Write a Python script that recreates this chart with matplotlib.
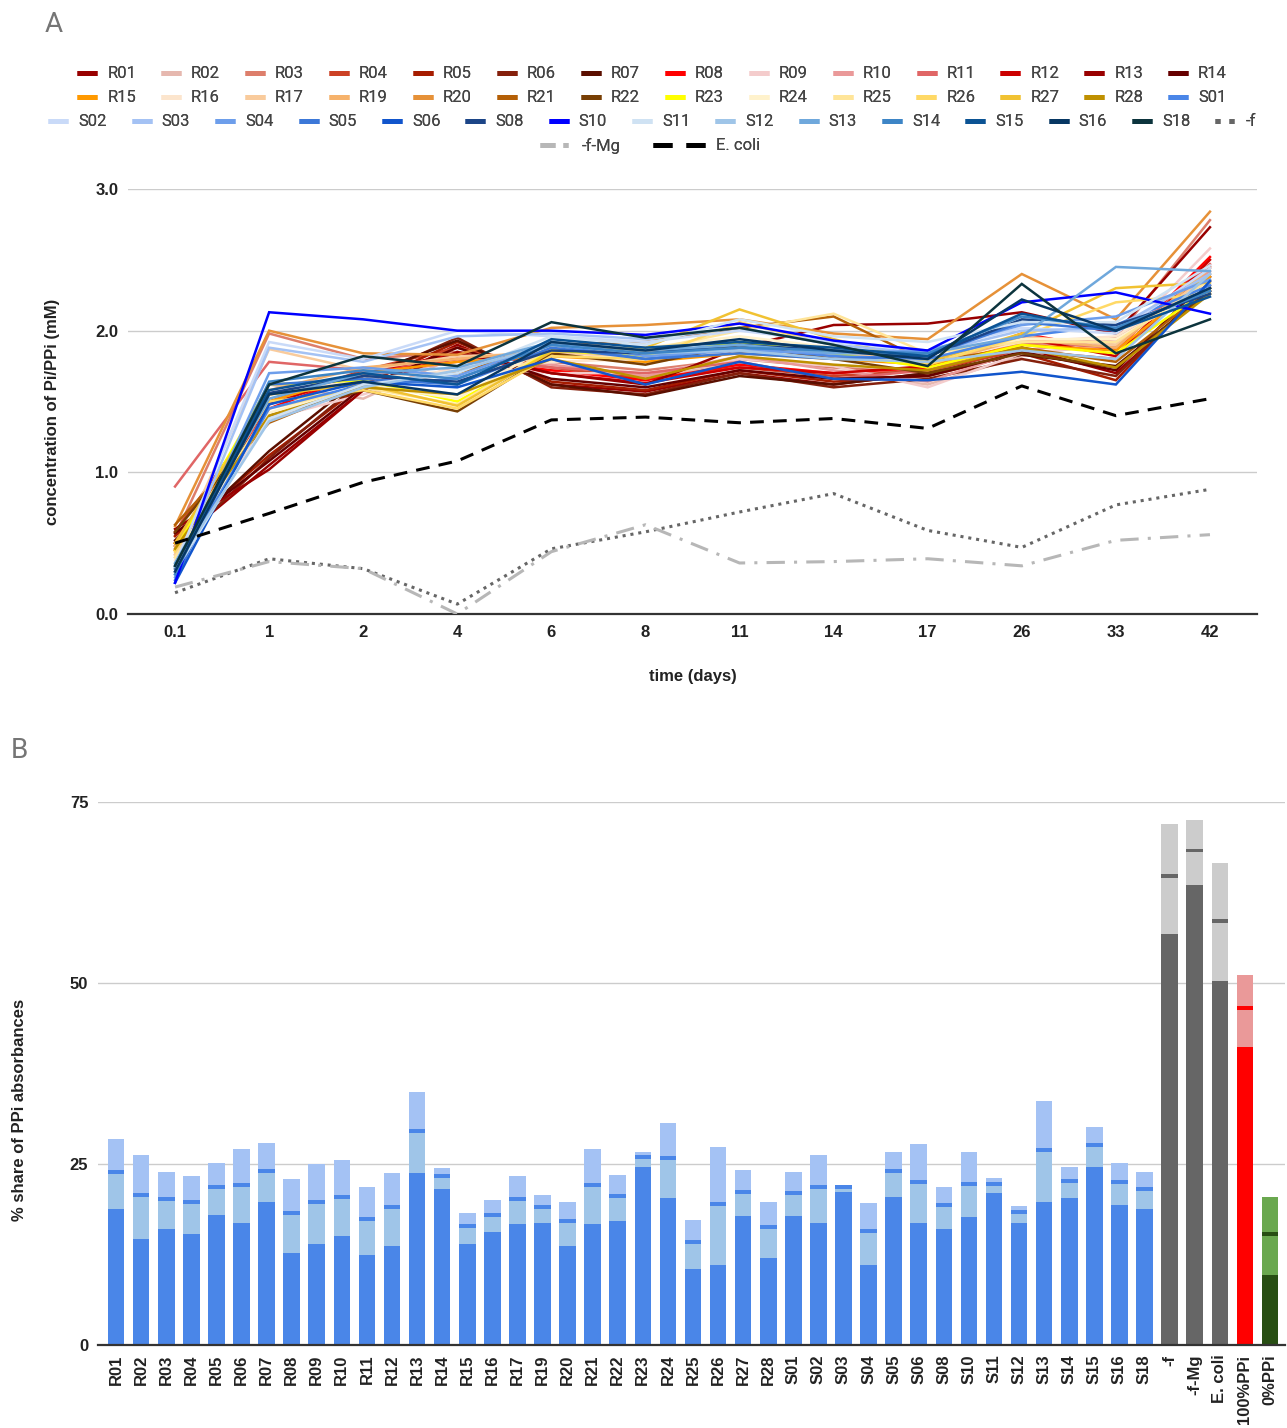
import matplotlib
matplotlib.use("Agg")
import matplotlib.pyplot as plt
from matplotlib.lines import Line2D
import numpy as np

plt.rcParams['font.family'] = ['Roboto', 'DejaVu Sans']
LABEL_FONT = ['Liberation Sans', 'DejaVu Sans']

# ---------------- Panel A data: Pi/PPi concentration over time ----------------
days = ["0.1", "1", "2", "4", "6", "8", "11", "14", "17", "26", "33", "42"]

sample_names = ["R01", "R02", "R03", "R04", "R05", "R06", "R07", "R08", "R09", "R10",
                "R11", "R12", "R13", "R14", "R15", "R16", "R17", "R19", "R20", "R21",
                "R22", "R23", "R24", "R25", "R26", "R27", "R28", "S01", "S02", "S03",
                "S04", "S05", "S06", "S08", "S10", "S11", "S12", "S13", "S14", "S15",
                "S16", "S18"]

R01 = [0.50, 1.05, 1.58, 1.90, 1.62, 1.57, 1.70, 1.62, 1.70, 1.88, 1.70, 2.30]
R02 = [0.42, 1.62, 1.52, 1.82, 1.72, 1.68, 1.76, 1.70, 1.62, 1.82, 1.92, 2.40]
R03 = [0.55, 1.98, 1.80, 1.85, 1.78, 1.72, 1.80, 1.74, 1.70, 1.90, 1.95, 2.78]
R04 = [0.58, 1.50, 1.72, 1.88, 1.74, 1.66, 1.74, 1.68, 1.72, 1.86, 1.80, 2.45]
R05 = [0.55, 1.12, 1.62, 1.92, 1.64, 1.58, 1.72, 1.64, 1.68, 1.84, 1.65, 2.35]
R06 = [0.48, 1.10, 1.65, 1.95, 1.60, 1.55, 1.70, 1.60, 1.66, 1.80, 1.68, 2.32]
R07 = [0.52, 1.15, 1.68, 1.93, 1.62, 1.54, 1.68, 1.62, 1.70, 1.83, 1.75, 2.28]
R08 = [0.45, 1.45, 1.70, 1.80, 1.72, 1.65, 1.76, 1.70, 1.74, 1.98, 1.86, 2.52]
R09 = [0.40, 1.38, 1.55, 1.75, 1.70, 1.70, 1.80, 1.75, 1.60, 1.84, 1.90, 2.58]
R10 = [0.46, 1.55, 1.68, 1.78, 1.76, 1.68, 1.82, 1.72, 1.64, 1.86, 1.94, 2.42]
R11 = [0.90, 1.78, 1.72, 1.80, 1.74, 1.70, 1.78, 1.66, 1.72, 1.92, 1.88, 2.47]
R12 = [0.50, 1.48, 1.70, 1.84, 1.70, 1.63, 1.74, 1.70, 1.75, 1.95, 1.82, 2.50]
R13 = [0.60, 1.02, 1.58, 1.85, 1.70, 1.62, 1.88, 2.04, 2.05, 2.13, 1.98, 2.73]
R14 = [0.57, 1.08, 1.60, 1.88, 1.66, 1.60, 1.72, 1.66, 1.68, 1.85, 1.72, 2.38]
R15 = [0.50, 1.50, 1.70, 1.78, 1.82, 1.78, 1.84, 1.80, 1.76, 1.90, 1.86, 2.38]
R16 = [0.38, 1.55, 1.66, 1.72, 1.78, 1.80, 1.86, 1.82, 1.78, 1.92, 1.96, 2.35]
R17 = [0.42, 1.87, 1.72, 1.82, 1.84, 1.82, 1.90, 1.84, 1.80, 1.96, 1.90, 2.40]
R19 = [0.48, 1.58, 1.74, 1.80, 1.86, 1.85, 1.88, 1.82, 1.76, 1.94, 1.88, 2.44]
R20 = [0.62, 2.00, 1.84, 1.83, 2.02, 2.04, 2.08, 1.98, 1.94, 2.40, 2.08, 2.84]
R21 = [0.63, 1.35, 1.62, 1.70, 1.90, 1.92, 2.02, 2.10, 1.78, 1.88, 1.78, 2.30]
R22 = [0.58, 1.40, 1.58, 1.43, 1.84, 1.76, 1.90, 1.80, 1.70, 1.84, 1.74, 2.28]
R23 = [0.45, 1.62, 1.65, 1.50, 1.86, 1.82, 1.92, 1.84, 1.74, 1.90, 1.84, 2.30]
R24 = [0.36, 1.42, 1.62, 1.52, 1.90, 1.88, 1.96, 1.88, 1.80, 1.94, 1.94, 2.32]
R25 = [0.40, 1.45, 1.60, 1.48, 1.88, 1.86, 2.00, 2.12, 1.84, 1.92, 1.92, 2.36]
R26 = [0.44, 1.50, 1.58, 1.45, 1.82, 1.80, 2.06, 1.90, 1.76, 1.96, 2.20, 2.26]
R27 = [0.50, 1.55, 1.62, 1.47, 1.85, 1.88, 2.15, 1.94, 1.78, 1.98, 2.30, 2.34]
R28 = [0.46, 1.40, 1.60, 1.55, 1.80, 1.66, 1.82, 1.76, 1.72, 1.88, 1.74, 2.26]
S01 = [0.30, 1.45, 1.62, 1.66, 1.90, 1.80, 1.88, 1.82, 1.80, 1.96, 2.04, 2.32]
S02 = [0.35, 1.92, 1.80, 2.00, 1.96, 1.92, 2.00, 1.92, 1.86, 2.02, 1.98, 2.44]
S03 = [0.28, 1.88, 1.78, 1.96, 1.98, 1.94, 2.02, 1.90, 1.84, 2.00, 2.02, 2.40]
S04 = [0.26, 1.70, 1.74, 1.68, 1.92, 1.82, 1.86, 1.84, 1.86, 2.04, 2.10, 2.36]
S05 = [0.24, 1.62, 1.66, 1.62, 1.88, 1.80, 1.84, 1.80, 1.82, 2.06, 2.00, 2.30]
S06 = [0.22, 1.48, 1.64, 1.60, 1.80, 1.62, 1.78, 1.66, 1.65, 1.71, 1.62, 2.35]
S08 = [0.32, 1.56, 1.68, 1.64, 1.86, 1.84, 1.90, 1.86, 1.82, 2.08, 2.04, 2.26]
S10 = [0.22, 2.13, 2.08, 2.00, 2.00, 1.97, 2.05, 1.93, 1.86, 2.20, 2.27, 2.12]
S11 = [0.30, 1.38, 1.62, 1.70, 1.96, 1.90, 2.08, 1.96, 1.92, 2.06, 2.06, 2.46]
S12 = [0.33, 1.36, 1.60, 1.72, 1.90, 1.84, 1.86, 1.80, 1.78, 1.86, 1.80, 2.40]
S13 = [0.36, 1.52, 1.70, 1.74, 1.92, 1.86, 1.90, 1.84, 1.84, 1.96, 2.45, 2.42]
S14 = [0.28, 1.64, 1.72, 1.66, 1.90, 1.84, 1.88, 1.86, 1.84, 2.10, 2.02, 2.28]
S15 = [0.34, 1.58, 1.70, 1.62, 1.94, 1.88, 1.92, 1.88, 1.82, 2.12, 2.00, 2.24]
S16 = [0.30, 1.55, 1.64, 1.55, 1.92, 1.86, 1.94, 1.86, 1.80, 2.22, 2.00, 2.30]
S18 = [0.34, 1.62, 1.82, 1.75, 2.06, 1.95, 2.02, 1.90, 1.75, 2.33, 1.84, 2.08]

ctrl_f = [0.15, 0.39, 0.32, 0.07, 0.46, 0.58, 0.72, 0.85, 0.59, 0.47, 0.77, 0.88]
ctrl_f_mg = [0.19, 0.37, 0.32, 0.00, 0.44, 0.63, 0.36, 0.37, 0.39, 0.34, 0.52, 0.56]
ecoli = [0.50, 0.71, 0.93, 1.08, 1.37, 1.39, 1.35, 1.38, 1.31, 1.61, 1.40, 1.52]

sample_values = [R01, R02, R03, R04, R05, R06, R07, R08, R09, R10, R11, R12, R13, R14,
                 R15, R16, R17, R19, R20, R21, R22, R23, R24, R25, R26, R27, R28,
                 S01, S02, S03, S04, S05, S06, S08, S10, S11, S12, S13, S14, S15, S16, S18]

sample_colors = ["#980000", "#e6b8af", "#dd7e6b", "#cc4125", "#a61c00", "#85200c", "#5b0f00",
                 "#ff0000", "#f4cccc", "#ea9999", "#e06666", "#cc0000", "#990000", "#660000",
                 "#ff9900", "#fce5cd", "#f9cb9c", "#f6b26b", "#e69138", "#b45f06", "#783f04",
                 "#ffff00", "#fff2cc", "#ffe599", "#ffd966", "#f1c232", "#bf9000", "#4a86e8",
                 "#c9daf8", "#a4c2f4", "#6d9eeb", "#3c78d8", "#1155cc", "#1c4587", "#0000ff",
                 "#cfe2f3", "#9fc5e8", "#6fa8dc", "#3d85c6", "#0b5394", "#073763", "#0c343d"]

# ---------------- Panel B data: % share of PPi absorbances ----------------
bar_labels = ["R01", "R02", "R03", "R04", "R05", "R06", "R07", "R08", "R09", "R10", "R11",
              "R12", "R13", "R14", "R15", "R16", "R17", "R19", "R20", "R21", "R22", "R23",
              "R24", "R25", "R26", "R27", "R28", "S01", "S02", "S03", "S04", "S05", "S06",
              "S08", "S10", "S11", "S12", "S13", "S14", "S15", "S16", "S18",
              "-f", "-f-Mg", "E. coli", "100%PPi", "0%PPi"]
share_low = [18.8, 14.7, 16.0, 15.4, 17.9, 16.9, 19.8, 12.7, 13.9, 15.0, 12.4, 13.7, 23.7,
             21.6, 13.9, 15.6, 16.7, 16.9, 13.7, 16.7, 17.1, 24.6, 20.3, 10.5, 11.0, 17.8,
             12.0, 17.8, 16.9, 21.2, 11.0, 20.5, 16.9, 16.0, 17.7, 21.0, 16.9, 19.8, 20.3,
             24.6, 19.4, 18.8, 56.7, 63.5, 50.3, 41.2, 9.7]
share_mid = [23.9, 20.7, 20.2, 19.7, 21.8, 22.1, 24.0, 18.2, 19.8, 20.5, 17.4, 19.0, 29.5,
             23.3, 16.5, 18.0, 20.2, 19.1, 17.1, 22.1, 20.6, 26.0, 25.8, 14.2, 19.5, 21.2,
             16.3, 21.0, 21.8, 21.8, 15.7, 24.0, 22.5, 19.3, 22.3, 22.3, 18.4, 26.9, 22.7,
             27.6, 22.5, 21.6, 64.8, 68.3, 58.6, 46.5, 15.3]
share_high = [28.5, 26.2, 23.9, 23.3, 25.2, 27.1, 27.9, 22.9, 25.0, 25.6, 21.8, 23.7, 34.9,
              24.5, 18.3, 20.0, 23.3, 20.7, 19.8, 27.1, 23.5, 26.7, 30.7, 17.3, 27.3, 24.2,
              19.8, 23.9, 26.2, 22.1, 19.6, 26.7, 27.8, 21.8, 26.7, 23.1, 19.2, 33.7, 24.6,
              30.1, 25.2, 23.9, 72.0, 72.5, 66.6, 51.1, 20.4]

# colour schemes (dark base / middle / top) for the bar groups
scheme_sample = ("#4a86e8", "#9fc5e8", "#a4c2f4")
scheme_control = ("#666666", "#cccccc", "#cccccc")
scheme_pos = ("#ff0000", "#ea9999", "#ea9999")
scheme_neg = ("#274e13", "#6aa84f", "#6aa84f")
special_schemes = {"-f": scheme_control, "-f-Mg": scheme_control, "E. coli": scheme_control,
                   "100%PPi": scheme_pos, "0%PPi": scheme_neg}

W, H = 1287, 1428
fig = plt.figure(figsize=(W / 100, H / 100), dpi=100)

def fx(px):
    return px / W

def fy(py):
    return 1 - py / H

TICK_COLOR = "#222222"
GRID_COLOR = "#cccccc"
AXIS_COLOR = "#333333"
TICK_SIZE = 12
TITLE_SIZE = 12
LEG_SIZE = 12


def style_ticks(ax):
    for lab in ax.get_xticklabels() + ax.get_yticklabels():
        lab.set_fontweight("bold")
        lab.set_family(LABEL_FONT)
        lab.set_fontsize(TICK_SIZE)
        lab.set_color(TICK_COLOR)


# ---------------- Panel A ----------------
axA = fig.add_axes([fx(128), fy(614), fx(1257) - fx(128), fy(189) - fy(614)])
x = np.arange(len(days))
for vals, col in zip(sample_values, sample_colors):
    axA.plot(x, vals, color=col, lw=1.8, solid_joinstyle="miter", zorder=3)
axA.plot(x, ctrl_f, color="#666666", lw=2.2, linestyle=(0, (1, 1.6)), zorder=4)
axA.plot(x, ctrl_f_mg, color="#b7b7b7", lw=2.2, linestyle=(0, (6, 3, 1, 3)), zorder=4)
axA.plot(x, ecoli, color="#000000", lw=2.2, linestyle=(0, (4.5, 3)), zorder=5)

axA.set_xlim(-0.5, len(days) - 0.5)
axA.set_ylim(0, 3.0)
axA.set_yticks([0, 1, 2, 3])
axA.set_yticklabels(["0.0", "1.0", "2.0", "3.0"])
axA.set_xticks(x)
axA.set_xticklabels(days)
axA.grid(axis="y", color=GRID_COLOR, lw=1.0, zorder=0)
axA.set_axisbelow(True)
for s in ["top", "right", "left"]:
    axA.spines[s].set_visible(False)
axA.spines["bottom"].set_color(AXIS_COLOR)
axA.spines["bottom"].set_linewidth(1.6)
axA.tick_params(length=0)
axA.tick_params(axis="x", pad=8)
axA.tick_params(axis="y", pad=7)
style_ticks(axA)

fig.text(fx(693), fy(677), "time (days)", ha="center", va="center", family=LABEL_FONT,
         fontsize=TITLE_SIZE, fontweight="bold", color=TICK_COLOR)
fig.text(fx(53), fy(412), "concentration of Pi/PPi (mM)", ha="center", va="center",
         rotation=90, family=LABEL_FONT, fontsize=TITLE_SIZE, fontweight="bold",
         color=TICK_COLOR)
fig.text(fx(45), fy(25), "A", ha="left", va="center", fontsize=20, color="#757575")

# legend rows
handles = {}
for name, col in zip(sample_names, sample_colors):
    handles[name] = Line2D([], [], color=col, lw=3.6, solid_capstyle="butt")
handles["-f"] = Line2D([], [], color="#666666", lw=3.6, linestyle=(0, (1.0, 1.8)))
handles["-f-Mg"] = Line2D([], [], color="#b7b7b7", lw=3.6, linestyle=(0, (3.0, 1.6, 1.0, 1.6)))
handles["E. coli"] = Line2D([], [], color="#000000", lw=3.6, linestyle=(0, (3.8, 2.8)))


def add_row(names, anchor, loc, hlen):
    leg = fig.legend([handles[n] for n in names], names, loc=loc, bbox_to_anchor=anchor,
                     ncol=len(names), frameon=False, fontsize=LEG_SIZE, handlelength=hlen,
                     handletextpad=0.6, columnspacing=1.5, borderpad=0, borderaxespad=0)
    for t in leg.get_texts():
        t.set_color("#444444")
    fig.add_artist(leg)


rows = [sample_names[0:14], sample_names[14:28], sample_names[28:42] + ["-f"]]
row_y = [74, 98, 122]
for names, ry in zip(rows, row_y):
    add_row(names, (fx(652), fy(ry)), "center", 1.2)
add_row(["-f-Mg"], (fx(540), fy(146)), "center left", 1.9)
add_row(["E. coli"], (fx(653), fy(146)), "center left", 3.2)

# ---------------- Panel B ----------------
axB = fig.add_axes([fx(98), fy(1345), fx(1285) - fx(98), fy(802) - fy(1345)])
xb = np.arange(len(bar_labels))
bw = 0.66
mark_h = 0.55
for i, name in enumerate(bar_labels):
    dark, mid, light = special_schemes.get(name, scheme_sample)
    lo, mk, hi = share_low[i], share_mid[i], share_high[i]
    axB.bar(xb[i], lo, width=bw, color=dark, zorder=3)
    axB.bar(xb[i], mk - lo, bottom=lo, width=bw, color=mid, zorder=3)
    axB.bar(xb[i], hi - mk, bottom=mk, width=bw, color=light, zorder=3)
    axB.bar(xb[i], mark_h, bottom=mk - mark_h / 2, width=bw, color=dark, zorder=4)

axB.set_xlim(-0.72, len(bar_labels) - 0.4)
axB.set_ylim(0, 75)
axB.set_yticks([0, 25, 50, 75])
axB.set_xticks(xb)
axB.set_xticklabels(bar_labels, rotation=90)
axB.grid(axis="y", color=GRID_COLOR, lw=1.0, zorder=0)
axB.set_axisbelow(True)
for s in ["top", "right", "left"]:
    axB.spines[s].set_visible(False)
axB.spines["bottom"].set_color(AXIS_COLOR)
axB.spines["bottom"].set_linewidth(1.6)
axB.spines["bottom"].set_zorder(5)
axB.tick_params(length=0)
axB.tick_params(axis="x", pad=7)
axB.tick_params(axis="y", pad=7)
style_ticks(axB)

fig.text(fx(20), fy(1110), "% share of PPi absorbances", ha="center", va="center",
         rotation=90, family=LABEL_FONT, fontsize=TITLE_SIZE, fontweight="bold",
         color=TICK_COLOR)
fig.text(fx(11), fy(750), "B", ha="left", va="center", fontsize=20, color="#757575")

fig.savefig("out.png", dpi=100, facecolor="white")
